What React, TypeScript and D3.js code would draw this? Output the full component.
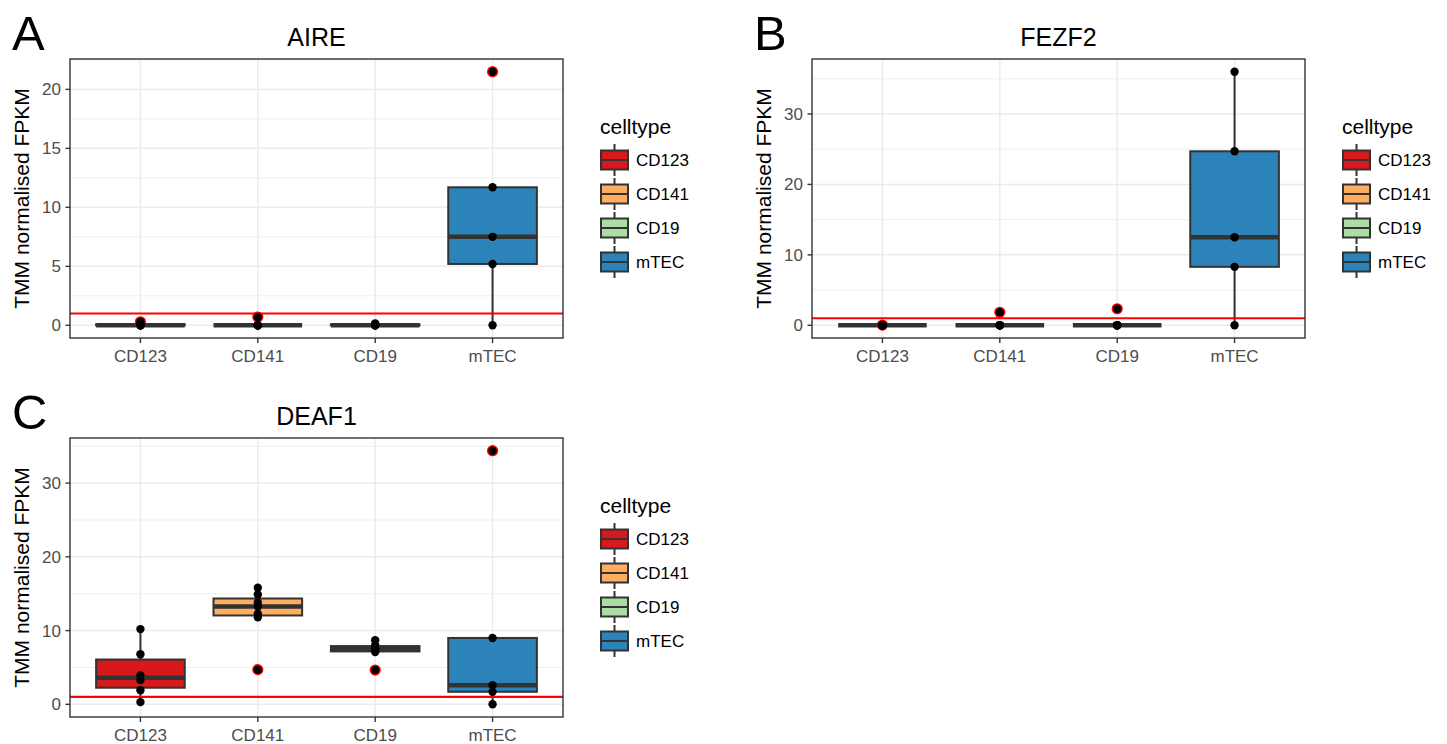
import React from "react";
import * as d3 from "d3";

const categories = ["CD123", "CD141", "CD19", "mTEC"];
const fillColors = ["#D7191C", "#FDAE61", "#ABDDA4", "#2B83BA"];
const legendTitle = "celltype";
const yAxisTitle = "TMM normalised FPKM";
const thresholdValue = 1;

// AIRE
const aireCD123 = [0, 0, 0, 0, 0.12, 0.3];
const aireCD141 = [0, 0, 0, 0, 0, 0.7];
const aireCD19 = [0, 0, 0, 0, 0.1, 0.15];
const aireMTEC = [0, 5.2, 7.5, 11.7, 21.5];
const aireTicks = [0, 5, 10, 15, 20];

// FEZF2
const fezf2CD123 = [0, 0, 0, 0, 0, 0.04];
const fezf2CD141 = [0, 0, 0, 0, 0, 1.85];
const fezf2CD19 = [0, 0, 0, 0, 0, 2.35];
const fezf2MTEC = [0, 8.3, 12.5, 24.7, 36.0];
const fezf2Ticks = [0, 10, 20, 30];

// DEAF1
const deaf1CD123 = [0.3, 1.9, 3.3, 3.9, 6.8, 10.2];
const deaf1CD141 = [4.7, 11.8, 12.3, 13.25, 13.8, 14.9, 15.8];
const deaf1CD19 = [4.65, 7.1, 7.4, 7.6, 8.0, 8.7];
const deaf1MTEC = [0, 1.7, 2.6, 9.0, 34.4];
const deaf1Ticks = [0, 10, 20, 30];

const FONT = "'Liberation Sans', Arial, Helvetica, sans-serif";
const DARK = "#333333";

type PanelDef = {
  letter: string;
  title: string;
  series: number[][];
  ticks: number[];
  dx: number;
  dy: number;
};

const panels: PanelDef[] = [
  { letter: "A", title: "AIRE", series: [aireCD123, aireCD141, aireCD19, aireMTEC], ticks: aireTicks, dx: 0, dy: 0 },
  { letter: "B", title: "FEZF2", series: [fezf2CD123, fezf2CD141, fezf2CD19, fezf2MTEC], ticks: fezf2Ticks, dx: 742, dy: 0 },
  { letter: "C", title: "DEAF1", series: [deaf1CD123, deaf1CD141, deaf1CD19, deaf1MTEC], ticks: deaf1Ticks, dx: 0, dy: 379 },
];

function boxStats(vals: number[]) {
  const s = [...vals].sort((a, b) => a - b);
  const q1 = d3.quantile(s, 0.25)!;
  const med = d3.quantile(s, 0.5)!;
  const q3 = d3.quantile(s, 0.75)!;
  const iqr = q3 - q1;
  const lo = q1 - 1.5 * iqr;
  const hi = q3 + 1.5 * iqr;
  const inside = s.filter((v) => v >= lo && v <= hi);
  const wLow = d3.min(inside)!;
  const wHigh = d3.max(inside)!;
  const outliers = s.filter((v) => v < lo || v > hi);
  return { q1, med, q3, wLow, wHigh, outliers };
}

function Panel({ p }: { p: PanelDef }) {
  const x0 = 70 + p.dx;
  const x1 = 563 + p.dx;
  const y0 = 59 + p.dy;
  const y1 = 338 + p.dy;
  const all = p.series.flat().concat([thresholdValue]);
  const mn = d3.min(all)!;
  const mx = d3.max(all)!;
  const pad = (mx - mn) * 0.05;
  const y = d3.scaleLinear().domain([mn - pad, mx + pad]).range([y1, y0]);
  const x = d3.scalePoint<string>().domain(categories).range([x0, x1]).padding(0.6);
  const step = x.step();
  const bw = step * 0.755;
  const [dmin, dmax] = y.domain();
  const tstep = p.ticks[1] - p.ticks[0];
  const minor: number[] = [];
  for (let v = p.ticks[0] - tstep / 2; v <= dmax; v += tstep) {
    if (v >= dmin && v <= dmax) minor.push(v);
  }
  const cy = (y0 + y1) / 2;
  const lx = 600 + p.dx;
  const ly = p.dy;

  return (
    <g>
      <text x={12 + p.dx} y={50 + p.dy} fontSize={49} fontFamily={FONT} fill="#000">{p.letter}</text>
      <text x={(x0 + x1) / 2} y={y0 - 13} fontSize={25} fontFamily={FONT} textAnchor="middle" fill="#000">{p.title}</text>
      <rect x={x0} y={y0} width={x1 - x0} height={y1 - y0} fill="#fff" />
      {minor.map((v) => (
        <line key={"mi" + v} x1={x0} x2={x1} y1={y(v)} y2={y(v)} stroke="#EBEBEB" strokeWidth={0.8} />
      ))}
      {p.ticks.map((v) => (
        <line key={"ma" + v} x1={x0} x2={x1} y1={y(v)} y2={y(v)} stroke="#EBEBEB" strokeWidth={1.5} />
      ))}
      {categories.map((c) => (
        <line key={"gx" + c} x1={x(c)} x2={x(c)} y1={y0} y2={y1} stroke="#EBEBEB" strokeWidth={1.5} />
      ))}
      {p.series.map((vals, i) => {
        const st = boxStats(vals);
        const cx = x(categories[i])!;
        return (
          <g key={"box" + i}>
            <line x1={cx} x2={cx} y1={y(st.q3)} y2={y(st.wHigh)} stroke={DARK} strokeWidth={2} />
            <line x1={cx} x2={cx} y1={y(st.q1)} y2={y(st.wLow)} stroke={DARK} strokeWidth={2} />
            {st.outliers.map((o, k) => (
              <circle key={"o" + k} cx={cx} cy={y(o)} r={5.6} fill="#FF0000" />
            ))}
            <rect x={cx - bw / 2} y={y(st.q3)} width={bw} height={Math.max(0, y(st.q1) - y(st.q3))} fill={fillColors[i]} stroke={DARK} strokeWidth={2} />
            <line x1={cx - bw / 2} x2={cx + bw / 2} y1={y(st.med)} y2={y(st.med)} stroke={DARK} strokeWidth={4.5} />
          </g>
        );
      })}
      <line x1={x0} x2={x1} y1={y(thresholdValue)} y2={y(thresholdValue)} stroke="#FF0000" strokeWidth={2.2} />
      {p.series.map((vals, i) =>
        vals.map((v, k) => (
          <circle key={"pt" + i + "_" + k} cx={x(categories[i])} cy={y(v)} r={4.2} fill="#000" />
        ))
      )}
      <rect x={x0} y={y0} width={x1 - x0} height={y1 - y0} fill="none" stroke={DARK} strokeWidth={1.4} />
      {p.ticks.map((v) => (
        <g key={"yt" + v}>
          <line x1={x0 - 4.5} x2={x0} y1={y(v)} y2={y(v)} stroke={DARK} strokeWidth={1.4} />
          <text x={x0 - 9} y={y(v) + 6} fontSize={17} fontFamily={FONT} textAnchor="end" fill="#4D4D4D">{v}</text>
        </g>
      ))}
      {categories.map((c) => (
        <g key={"xt" + c}>
          <line x1={x(c)} x2={x(c)} y1={y1} y2={y1 + 5} stroke={DARK} strokeWidth={1.4} />
          <text x={x(c)} y={y1 + 24} fontSize={17} fontFamily={FONT} textAnchor="middle" fill="#4D4D4D">{c}</text>
        </g>
      ))}
      <text transform={`translate(${29 + p.dx},${cy}) rotate(-90)`} fontSize={21} fontFamily={FONT} textAnchor="middle" fill="#000">{yAxisTitle}</text>
      <text x={lx} y={134 + ly} fontSize={21} fontFamily={FONT} fill="#000">{legendTitle}</text>
      {categories.map((c, i) => {
        const kc = 160 + ly + i * 34;
        const kx = lx + 14.5;
        return (
          <g key={"lg" + c}>
            <line x1={kx} x2={kx} y1={kc - 16} y2={kc + 16} stroke={DARK} strokeWidth={2} />
            <rect x={lx + 1} y={kc - 9.5} width={27} height={19} fill={fillColors[i]} stroke={DARK} strokeWidth={2} />
            <line x1={lx + 1} x2={lx + 28} y1={kc} y2={kc} stroke={DARK} strokeWidth={2} />
            <text x={lx + 36} y={kc + 6} fontSize={17} fontFamily={FONT} fill="#000">{c}</text>
          </g>
        );
      })}
    </g>
  );
}

export default function App() {
  return (
    <svg width={1447} height={744} style={{ position: "absolute", left: 0, top: 0, background: "#fff" }}>
      <rect x={0} y={0} width={1447} height={744} fill="#fff" />
      {panels.map((p) => (
        <Panel key={p.letter} p={p} />
      ))}
    </svg>
  );
}
